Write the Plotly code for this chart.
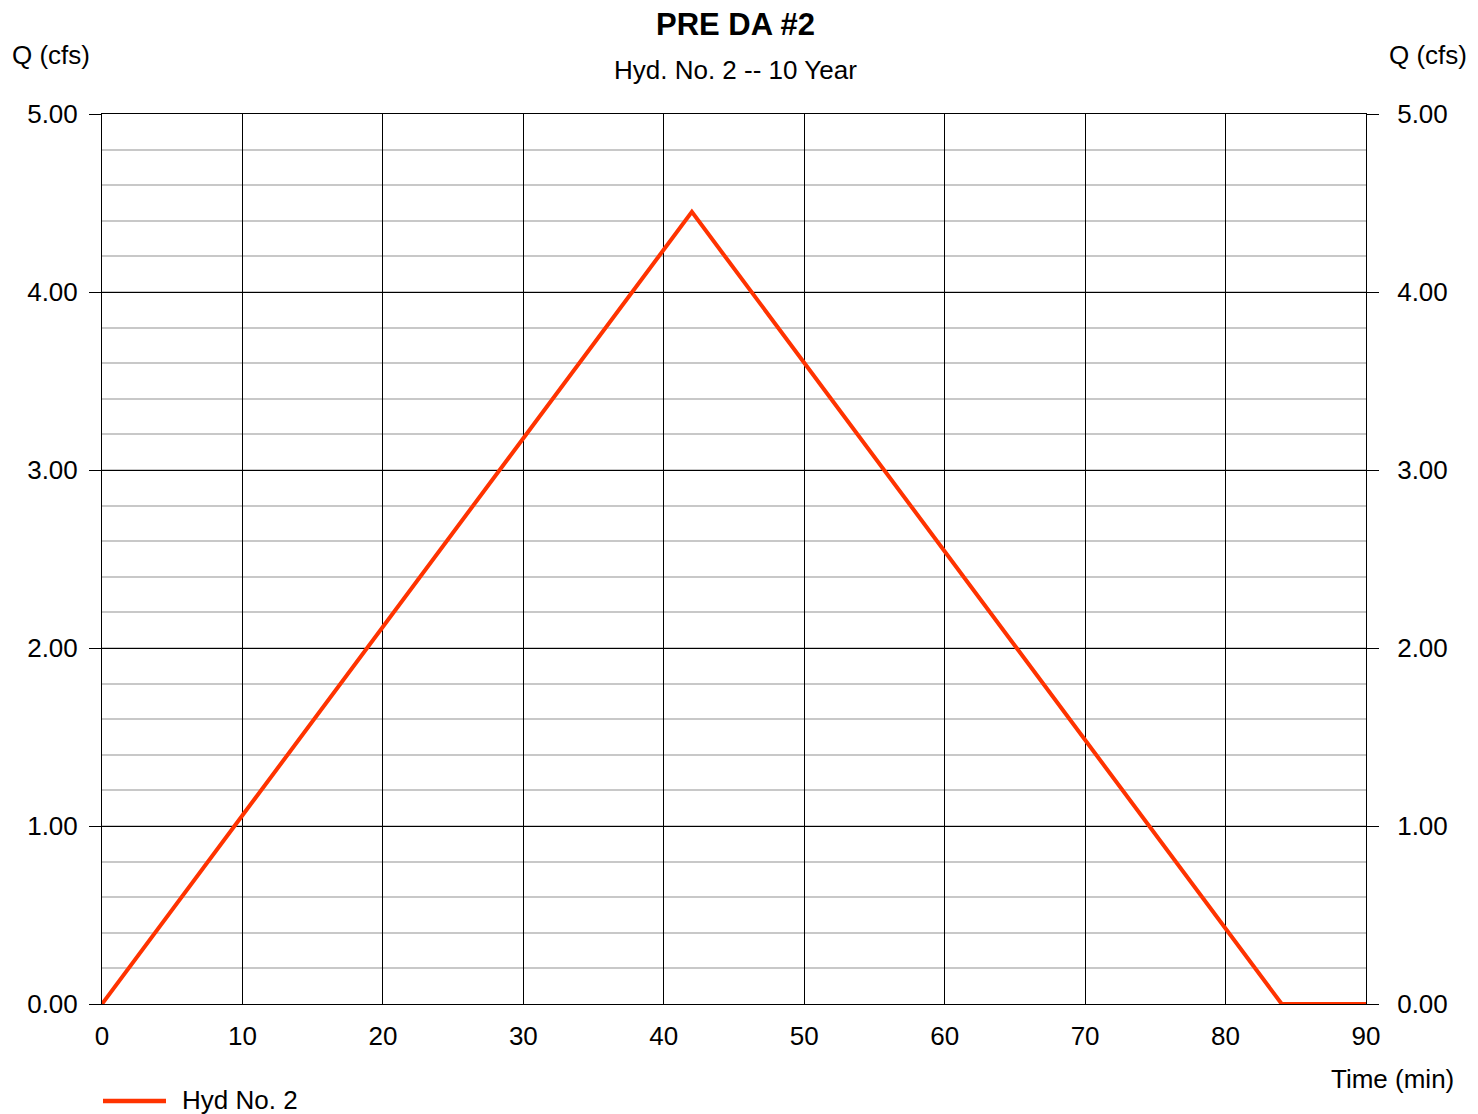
import plotly.graph_objects as go

time_min = [0, 42, 84, 90]
q_cfs = [0.0, 4.45, 0.0, 0.0]
x_ticks = [0, 10, 20, 30, 40, 50, 60, 70, 80, 90]
y_ticks = [0, 1, 2, 3, 4, 5]
y_tick_labels = ["0.00", "1.00", "2.00", "3.00", "4.00", "5.00"]
series_name = "Hyd No. 2"
title = "PRE DA #2"
subtitle = "Hyd. No. 2 -- 10 Year"

FONT = "Liberation Sans, Arial, sans-serif"
LINE_COLOR = "#FF3300"
FS = 26

# page offset (browser body margin)
OFF = 8
W, H = 1478 - OFF, 1114 - OFF
L, T, R, B = 102 - OFF, 114 - OFF, W - (1366 - OFF), H - (1004 - OFF)
PW, PH = W - L - R, H - T - B


def px(xp):
    return (xp - OFF - L) / PW


def py(yp):
    return 1 - (yp - OFF - T) / PH


fig = go.Figure()
fig.add_trace(go.Scatter(x=time_min, y=q_cfs, mode="lines", name=series_name,
                         line=dict(color=LINE_COLOR, width=4), showlegend=False))
fig.add_trace(go.Scatter(x=[time_min[0]], y=[q_cfs[0]], yaxis="y2", mode="markers",
                         marker=dict(opacity=0), showlegend=False, hoverinfo="skip"))

yaxis_common = dict(
    range=[0, 5], tickvals=y_ticks, ticktext=y_tick_labels,
    ticks="outside", ticklen=12, tickcolor="black", tickwidth=1,
    tickfont=dict(family=FONT, size=FS, color="black"),
    zeroline=False,
)

fig.update_layout(
    width=W, height=H,
    margin=dict(l=L, r=R, t=T, b=B, pad=0),
    paper_bgcolor="white", plot_bgcolor="white",
    font=dict(family=FONT, color="black"),
    xaxis=dict(range=[0, 90], tickvals=x_ticks, showgrid=True, gridcolor="black", gridwidth=1,
               showline=True, linecolor="black", linewidth=1, mirror=True,
               ticks="", tickfont=dict(family=FONT, size=FS, color="black"),
               ticklabelstandoff=9, zeroline=False),
    yaxis=dict(**yaxis_common, ticklabelstandoff=6, showgrid=True, gridcolor="black", gridwidth=1,
               showline=True, linecolor="black", linewidth=1, mirror=True,
               minor=dict(dtick=0.2, showgrid=True, gridcolor="#c8c8c8", gridwidth=2, ticks="")),
    yaxis2=dict(**yaxis_common, ticklabelstandoff=13, overlaying="y", side="right",
                showgrid=False, showline=False),
    annotations=[
        dict(text=f"<b>{title}</b>", x=px(735), y=py(25), font=dict(family=FONT, size=31)),
        dict(text=subtitle, x=px(735), y=py(70), font=dict(family=FONT, size=FS)),
        dict(text="Q (cfs)", x=px(10), y=py(55), xanchor="left", font=dict(family=FONT, size=FS)),
        dict(text="Q (cfs)", x=px(1469), y=py(55), xanchor="right", font=dict(family=FONT, size=FS)),
        dict(text="Time (min)", x=px(1456), y=py(1079), xanchor="right", font=dict(family=FONT, size=FS)),
        dict(text=series_name, x=px(180), y=py(1100), xanchor="left", font=dict(family=FONT, size=FS)),
    ],
)
for a in fig.layout.annotations:
    a.xref = "paper"
    a.yref = "paper"
    a.showarrow = False
    a.yanchor = "middle"

fig.add_shape(type="line", xref="paper", yref="paper",
              x0=px(103), x1=px(166), y0=py(1101), y1=py(1101),
              line=dict(color=LINE_COLOR, width=4.5))

fig.write_html("out.html")
